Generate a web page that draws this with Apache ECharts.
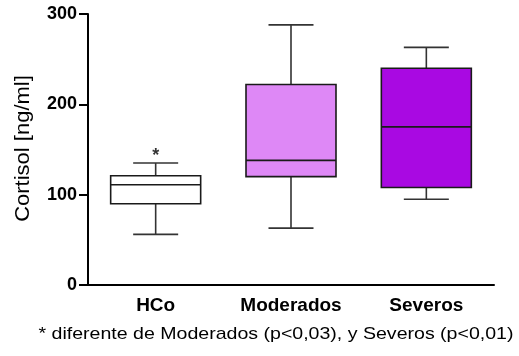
<!DOCTYPE html>
<html><head><meta charset="utf-8">
<script src="https://cdn.jsdelivr.net/npm/echarts@6/dist/echarts.min.js"></script>
<style>html,body{margin:0;padding:0;background:#fff}#c{width:519px;height:356px}</style>
</head><body><div id="c"></div>
<script>
const categories = ['HCo', 'Moderados', 'Severos'];
// [min, Q1, median, Q3, max]
const hco = [56, 90, 111, 121, 135];
const moderados = [63, 120, 138, 222, 288];
const severos = [95, 108, 175, 240, 263];
const yTicks = [0, 100, 200, 300];
const fills = ['#ffffff', '#de88f6', '#a909e2'];
const starValue = 143;
const yName = 'Cortisol [ng/ml]';
const footnote = '* diferente de Moderados (p<0,03), y Severos (p<0,01)';

const font = 'Liberation Sans, Arial, sans-serif';
const chart = echarts.init(document.getElementById('c'), null, {renderer: 'canvas'});
const boxRows = [hco, moderados, severos].map((v, i) => [i].concat(v));

function renderBox(params, api) {
  const x = api.value(0);
  const pMin = api.coord([x, api.value(1)]);
  const pQ1 = api.coord([x, api.value(2)]);
  const pMed = api.coord([x, api.value(3)]);
  const pQ3 = api.coord([x, api.value(4)]);
  const pMax = api.coord([x, api.value(5)]);
  const bw = api.size([1, 0])[0] * 0.665;
  const cw = bw / 2;
  const cx = pMin[0];
  const lineStyle = {stroke: '#333', lineWidth: 1.6};
  const boxStroke = {stroke: '#1a1a1a', lineWidth: 1.6};
  return {
    type: 'group',
    children: [
      {type: 'line', shape: {x1: cx, y1: pMax[1], x2: cx, y2: pQ3[1]}, style: lineStyle},
      {type: 'line', shape: {x1: cx, y1: pQ1[1], x2: cx, y2: pMin[1]}, style: lineStyle},
      {type: 'line', shape: {x1: cx - cw / 2, y1: pMax[1], x2: cx + cw / 2, y2: pMax[1]}, style: lineStyle},
      {type: 'line', shape: {x1: cx - cw / 2, y1: pMin[1], x2: cx + cw / 2, y2: pMin[1]}, style: lineStyle},
      {type: 'rect', shape: {x: cx - bw / 2, y: pQ3[1], width: bw, height: pQ1[1] - pQ3[1]},
        style: Object.assign({fill: fills[params.dataIndex]}, boxStroke)},
      {type: 'line', shape: {x1: cx - bw / 2, y1: pMed[1], x2: cx + bw / 2, y2: pMed[1]}, style: boxStroke}
    ]
  };
}

chart.setOption({
  animation: false,
  grid: {left: 88, right: 25, top: 14, bottom: 71},
  xAxis: {
    type: 'category', data: categories, boundaryGap: true,
    axisLine: {lineStyle: {color: '#000', width: 2}},
    axisTick: {alignWithLabel: true, length: 6, lineStyle: {color: '#000', width: 2}},
    axisLabel: {fontFamily: font, fontWeight: 'bold', fontSize: 19, color: '#000', margin: 11}
  },
  yAxis: {
    type: 'value', min: yTicks[0], max: yTicks[yTicks.length - 1], interval: 100,
    axisLine: {show: true, lineStyle: {color: '#000', width: 2}},
    axisTick: {show: true, length: 9, lineStyle: {color: '#000', width: 2}},
    splitLine: {show: false},
    axisLabel: {fontFamily: font, fontWeight: 'bold', fontSize: 18, color: '#000', margin: 11}
  },
  series: [{
    type: 'custom',
    renderItem: renderBox,
    data: boxRows,
    encode: {x: 0, y: [1, 2, 3, 4, 5]}
  }, {
    type: 'scatter',
    data: [[0, starValue]],
    symbolSize: 0,
    silent: true,
    label: {show: true, formatter: '*', position: 'inside', fontFamily: font, fontSize: 18, fontWeight: 'bold', color: '#000'}
  }],
  graphic: [{
    type: 'text', x: 23.5, y: 148.5, rotation: Math.PI / 2, scaleX: 1.1,
    style: {text: yName, fontFamily: font, fontSize: 20, fill: '#000', align: 'center', verticalAlign: 'middle'}
  }, {
    type: 'text', x: 276, y: 334, scaleX: 1.15,
    style: {text: footnote, fontFamily: font, fontSize: 17, fill: '#000', align: 'center', verticalAlign: 'middle'}
  }]
});
</script></body></html>
